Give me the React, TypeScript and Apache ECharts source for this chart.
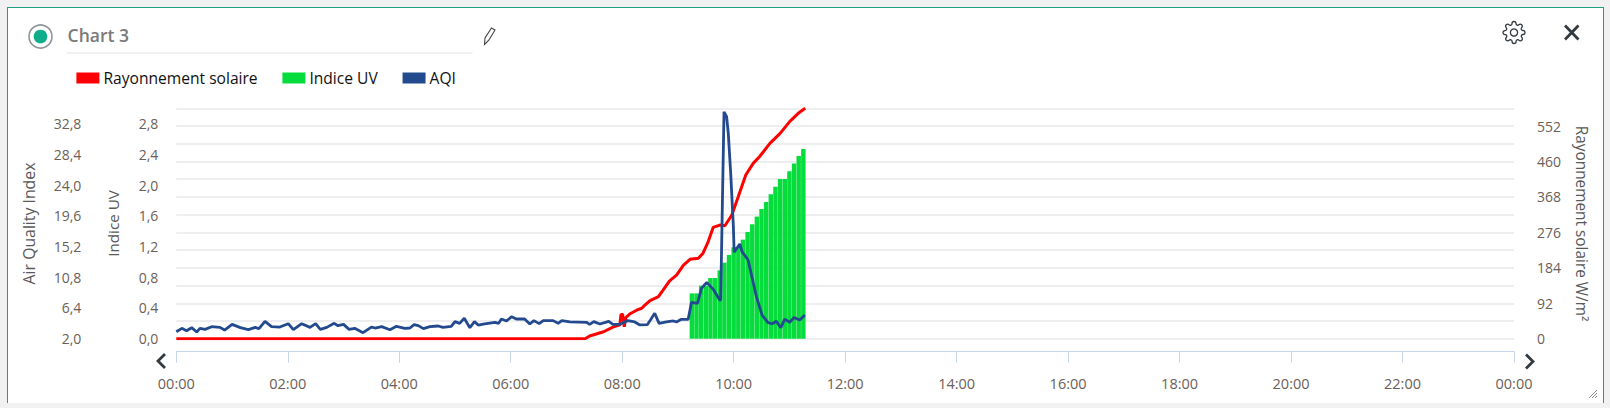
import React, { useEffect, useRef } from "react";
import * as echarts from "echarts";

const legendNames = ["Rayonnement solaire", "Indice UV", "AQI"];
const chartTitle = "Chart 3";
const aqiAxisName = "Air Quality Index";
const uvAxisName = "Indice UV";
const solarAxisName = "Rayonnement solaire W/m²";

const aqiTicks = [2, 6.4, 10.8, 15.2, 19.6, 24, 28.4, 32.8];
const uvTicks = [0, 0.4, 0.8, 1.2, 1.6, 2, 2.4, 2.8];
const solarTicks = [0, 92, 184, 276, 368, 460, 552];

const solarTimes = [0, 440, 445, 460, 470, 477.5, 478.6, 480.4, 482.2, 484, 488, 495.5, 501, 504.4, 510, 519, 524, 531, 538.5, 546, 553, 562, 567, 572.6, 578, 585, 590.6, 598, 605, 613, 621, 628, 639, 650, 660.5, 669.5, 677];
const solarValues = [0, 0, 7, 18, 30, 36, 62, 64, 31, 55, 64, 74, 79, 87, 99, 109, 126, 150, 165, 191, 206, 209, 222, 252, 289, 295, 293, 321, 369, 425, 455, 473, 507, 533, 564, 585, 598];

const uvTimes = [555, 560, 565, 570, 575, 580, 585, 590, 595, 600, 605, 610, 615, 620, 625, 630, 635, 640, 645, 650, 655, 660, 665, 670, 675];
const uvValues = [0.59, 0.59, 0.69, 0.69, 0.79, 0.79, 0.89, 0.99, 1.09, 1.19, 1.19, 1.29, 1.39, 1.49, 1.59, 1.69, 1.78, 1.88, 1.98, 2.08, 2.08, 2.18, 2.28, 2.38, 2.47];

const aqiTimes = [0, 6, 11, 16.5, 22, 25.5, 31, 38, 47, 52, 60, 69, 77.5, 85, 89, 95.5, 102.5, 111.5, 120.5, 126, 135, 144, 150, 155, 162, 170, 174, 180, 186, 192, 201, 210, 214, 221, 230, 237, 246, 251.5, 256, 260.5, 266, 273, 282, 287, 296, 300, 305, 310, 316, 321, 325, 332, 343, 347, 350, 355.5, 361, 366, 370, 375, 380.5, 385, 390.6, 395, 405.6, 411, 415, 423.6, 441.5, 445, 449.4, 456, 465.5, 470, 477.4, 486, 493.5, 499, 507, 510.4, 515, 519.7, 527.6, 535, 538.4, 543.7, 550, 551, 554.6, 561, 565.3, 571, 578, 585, 586, 589.6, 592.4, 594.2, 596.8, 599.6, 600.5, 606.6, 609, 615.5, 624.5, 630.6, 637, 641.4, 646, 650.7, 655, 660.4, 665, 671, 676.7];
const aqiValues = [3.0, 3.48, 3.15, 3.58, 2.96, 3.48, 3.34, 3.72, 3.62, 3.24, 4.05, 3.58, 3.29, 3.62, 3.43, 4.48, 3.72, 3.67, 4.15, 3.29, 4.15, 3.62, 4.15, 3.34, 3.62, 4.2, 3.86, 4.05, 3.34, 3.48, 2.86, 3.67, 3.53, 3.72, 3.29, 3.77, 3.48, 3.53, 4.01, 3.87, 3.44, 3.72, 3.82, 3.63, 3.77, 4.44, 4.2, 4.92, 3.58, 4.44, 3.96, 4.11, 4.34, 4.2, 4.82, 4.54, 5.16, 4.82, 4.82, 4.83, 4.11, 4.59, 4.16, 4.59, 4.59, 4.2, 4.59, 4.4, 4.35, 4.06, 4.44, 4.11, 4.49, 4.06, 4.06, 4.59, 4.4, 3.97, 4.01, 4.68, 5.64, 4.2, 4.4, 4.54, 4.4, 4.78, 4.78, 4.77, 7.2, 7.06, 9.2, 10.07, 9.07, 7.54, 7.54, 34.5, 33.8, 31.4, 25.7, 18.3, 14.4, 15.57, 14.47, 13.27, 8.0, 5.39, 4.29, 4.14, 4.5, 3.57, 4.81, 4.34, 5.05, 4.67, 5.39];

const pairs = (xs: number[], ys: number[]) => xs.map((x, i) => [x, ys[i]]);
const comma = (v: number) => v.toFixed(1).replace(".", ",");
const clock = (m: number) => {
  const h = Math.floor(m / 60) % 24;
  return `${String(h).padStart(2, "0")}:00`;
};

const gear =
  "M19.4 15a1.65 1.65 0 0 0 .33 1.82l.06.06a2 2 0 0 1 0 2.83 2 2 0 0 1-2.83 0l-.06-.06a1.65 1.65 0 0 0-1.82-.33 1.65 1.65 0 0 0-1 1.51V21a2 2 0 0 1-2 2 2 2 0 0 1-2-2v-.09A1.65 1.65 0 0 0 9 19.4a1.65 1.65 0 0 0-1.82.33l-.06.06a2 2 0 0 1-2.83 0 2 2 0 0 1 0-2.83l.06-.06a1.65 1.65 0 0 0 .33-1.82 1.65 1.65 0 0 0-1.51-1H3a2 2 0 0 1-2-2 2 2 0 0 1 2-2h.09A1.65 1.65 0 0 0 4.6 9a1.65 1.65 0 0 0-.33-1.82l-.06-.06a2 2 0 0 1 0-2.83 2 2 0 0 1 2.83 0l.06.06a1.65 1.65 0 0 0 1.82.33H9a1.65 1.65 0 0 0 1-1.51V3a2 2 0 0 1 2-2 2 2 0 0 1 2 2v.09a1.65 1.65 0 0 0 1 1.51 1.65 1.65 0 0 0 1.82-.33l.06-.06a2 2 0 0 1 2.83 0 2 2 0 0 1 0 2.83l-.06.06a1.65 1.65 0 0 0-.33 1.82V9a1.65 1.65 0 0 0 1.51 1H21a2 2 0 0 1 2 2 2 2 0 0 1-2 2h-.09a1.65 1.65 0 0 0-1.51 1z";
echarts.graphic.registerShape("gearIcon", echarts.graphic.extendPath(gear, {}) as any);

const FONT = "'Open Sans', 'Noto Sans', sans-serif";
const LABEL = "#6b6058";
const NAME = "#5a5a5a";
const ICON = "#333a40";

export default function App() {
  const ref = useRef<HTMLDivElement>(null);
  useEffect(() => {
    document.body.style.margin = "0";
    document.body.style.background = "#f1f1f1";
    const chart = echarts.init(ref.current!, undefined, { renderer: "svg" });
    const yBase = { type: "value", axisLine: { show: false }, axisTick: { show: false }, splitLine: { show: false } };
    chart.setOption({
      animation: false,
      textStyle: { fontFamily: FONT },
      grid: { left: 176.3, right: 96, top: 108.3, bottom: 69.3 },
      legend: {
        left: 76.4,
        top: 70,
        padding: 0,
        itemWidth: 23,
        itemHeight: 11,
        itemGap: 24.8,
        selectedMode: false,
        itemStyle: { borderWidth: 0 },
        lineStyle: { width: 0 },
        textStyle: { fontFamily: FONT, fontSize: 15.6, color: "#111", padding: [0, 0, 0, -1] },
        data: legendNames.map((name) => ({ name, icon: "rect" })),
      },
      xAxis: {
        type: "value",
        min: 0,
        max: 1440,
        interval: 120,
        offset: 13,
        axisLine: { onZero: false, lineStyle: { color: "#c6d4ec", width: 1 } },
        axisTick: { length: 11, lineStyle: { color: "#c6d4ec", width: 1 } },
        splitLine: { show: false },
        axisLabel: { color: LABEL, fontFamily: FONT, fontSize: 14.5, margin: 24, formatter: clock, hideOverlap: false },
      },
      yAxis: [
        {
          ...yBase,
          position: "right",
          min: 0,
          max: 598,
          interval: 46,
          name: solarAxisName,
          nameLocation: "middle",
          nameRotate: -90,
          nameGap: 60,
          nameTextStyle: { color: NAME, fontSize: 15.4, fontFamily: FONT, padding: [0, 0, 0, 0] },
          splitLine: { show: true, lineStyle: { color: "#e9e9ec", width: 1.5 } },
          axisLabel: { customValues: solarTicks, color: LABEL, fontFamily: FONT, fontSize: 14, margin: 23, align: "left", padding: [0, 0, 2, 0], formatter: (v: number) => String(v) },
        },
        {
          ...yBase,
          position: "left",
          min: 0,
          max: 3,
          name: uvAxisName,
          nameLocation: "middle",
          nameGap: 56,
          nameTextStyle: { color: NAME, fontSize: 15.2, fontFamily: FONT },
          axisLabel: { customValues: uvTicks, color: LABEL, fontFamily: FONT, fontSize: 14, margin: 18, formatter: comma },
        },
        {
          ...yBase,
          position: "left",
          offset: 77,
          min: 2,
          max: 35,
          name: aqiAxisName,
          nameLocation: "middle",
          nameGap: 62,
          nameTextStyle: { color: NAME, fontSize: 15.8, fontFamily: FONT },
          axisLabel: { customValues: aqiTicks, color: LABEL, fontFamily: FONT, fontSize: 14, margin: 18, formatter: comma },
        },
      ],
      series: [
        {
          name: legendNames[0],
          type: "line",
          yAxisIndex: 0,
          data: pairs(solarTimes, solarValues),
          showSymbol: false,
          color: "#ff0000",
          lineStyle: { color: "#ff0000", width: 3 },
          z: 3,
        },
        {
          name: legendNames[1],
          type: "bar",
          yAxisIndex: 1,
          data: pairs(uvTimes, uvValues),
          barWidth: 4.45,
          color: "#06dc3c",
          itemStyle: { color: "#06dc3c" },
          z: 1,
        },
        {
          name: legendNames[2],
          type: "line",
          yAxisIndex: 2,
          data: pairs(aqiTimes, aqiValues),
          showSymbol: false,
          color: "#234a8f",
          lineStyle: { color: "#234a8f", width: 2.8 },
          z: 4,
        },
      ],
      graphic: [
        { type: "circle", shape: { cx: 40.5, cy: 36.5, r: 11.5 }, style: { fill: "#fff", stroke: "#8f969b", lineWidth: 1.6 } },
        { type: "circle", shape: { cx: 40.5, cy: 36.5, r: 6.8 }, style: { fill: "#10ad8a" } },
        { type: "text", x: 67.6, y: 26, style: { text: chartTitle, fontFamily: FONT, fontSize: 17.5, fontWeight: 600, fill: "#7a7a7a" } },
        { type: "line", shape: { x1: 67, y1: 53, x2: 472.6, y2: 53 }, style: { stroke: "#e2e3e6", lineWidth: 1 } },
        { type: "polygon", shape: { points: [[484.5, 44.5], [485, 38], [491.5, 28], [495, 30], [489, 40]] }, style: { fill: "none", stroke: "#444", lineWidth: 1.1 } },
        { type: "gearIcon", x: 1502, y: 20.5, style: { fill: "none", stroke: ICON, lineWidth: 1.3 } },
        { type: "circle", shape: { cx: 1514, cy: 32.5, r: 3.6 }, style: { fill: "none", stroke: ICON, lineWidth: 1.3 } },
        { type: "line", shape: { x1: 1565, y1: 25.5, x2: 1578.5, y2: 39.5 }, style: { stroke: ICON, lineWidth: 2.8 } },
        { type: "line", shape: { x1: 1578.5, y1: 25.5, x2: 1565, y2: 39.5 }, style: { stroke: ICON, lineWidth: 2.8 } },
        { type: "polyline", shape: { points: [[165, 354], [158, 361], [165, 368]] }, style: { fill: "none", stroke: ICON, lineWidth: 2.8 } },
        { type: "polyline", shape: { points: [[1526, 354.5], [1533, 361.5], [1526, 368.5]] }, style: { fill: "none", stroke: ICON, lineWidth: 2.8 } },
        { type: "line", shape: { x1: 1589, y1: 398, x2: 1597, y2: 390 }, style: { stroke: "#888", lineWidth: 1 } },
        { type: "line", shape: { x1: 1592, y1: 398, x2: 1597, y2: 393 }, style: { stroke: "#888", lineWidth: 1 } },
        { type: "line", shape: { x1: 1595, y1: 398, x2: 1597, y2: 396 }, style: { stroke: "#888", lineWidth: 1 } },
      ],
    });
    return () => chart.dispose();
  }, []);
  return (
    <div style={{ position: "relative", width: 1610, height: 408, background: "#f1f1f1", overflow: "hidden" }}>
      <div
        style={{
          position: "absolute",
          left: 7,
          top: 7,
          width: 1597,
          height: 396,
          boxSizing: "border-box",
          background: "#fff",
          borderLeft: "1px solid #1f9e82",
          borderRight: "1px solid #1f9e82",
          borderTop: "1px solid #1f9e82",
        }}
      />
      <div ref={ref} style={{ position: "absolute", left: 0, top: 0, width: 1610, height: 408 }} />
    </div>
  );
}
